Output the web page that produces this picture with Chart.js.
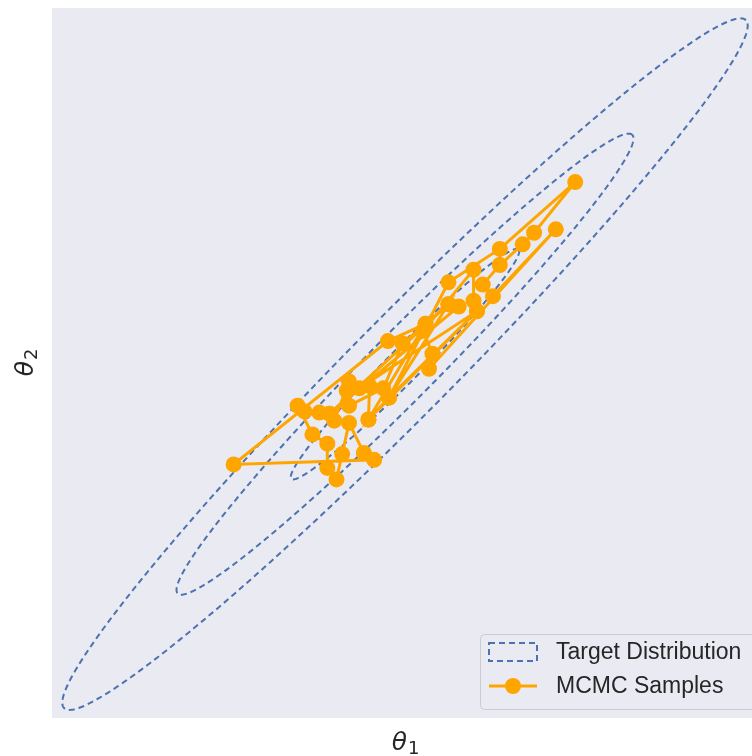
<!DOCTYPE html>
<html>
<head>
<meta charset="utf-8">
<title>MCMC samples vs target</title>
<script src="https://cdn.jsdelivr.net/npm/chart.js"></script>
<style>
  html, body { margin: 0; padding: 0; background: #fff; overflow: hidden; }
  canvas { display: block; }
</style>
</head>
<body>
<canvas id="mcmcChart" width="766" height="756"></canvas>
<script>
// Metropolis chain, in the order it was visited
const sampleX = [0.18, -0.15, -1.50, -0.27, -0.36, -0.49, -0.55, -0.60, -0.68, -0.68,
                 -0.81, -0.94, -0.88, -0.75, -0.66, -0.62, -0.49, -0.31, -0.32, -0.14,
                 0.38, 0.83, 1.49, 1.13, 1.03, 0.83, 0.68, 0.77, 1.32, 0.21,
                 0.24, 0.16, 0.60, 0.60, 0.63, -0.40, -0.51, -0.49, -0.19, -0.02,
                 0.38, 0.47, -0.66, 0.38, -0.14, 0.63, -0.32, 0.18];
const sampleY = [0.35, 0.20, -0.87, -0.83, -0.77, -0.51, -0.78, -1.00, -0.90, -0.69,
                 -0.61, -0.36, -0.41, -0.42, -0.43, -0.49, -0.15, -0.19, -0.48, -0.29,
                 0.71, 1.00, 1.58, 1.14, 1.04, 0.86, 0.69, 0.59, 1.17, -0.04,
                 0.09, 0.29, 0.82, 0.55, 0.46, -0.21, -0.23, -0.36, -0.21, 0.18,
                 0.52, 0.50, -0.43, 0.52, -0.29, 0.46, -0.48, 0.35];

// Target: correlated bivariate normal
const targetMean = [0, 0];
const targetCov = [[1.0, 0.979], [0.979, 1.0]];
const contourLevels = [1, 2, 3];   // Mahalanobis radii

const xLimits = [-3.09, 3.09];
const yLimits = [-3.07, 3.09];

const BLUE = '#4C72B0';
const ORANGE = '#FFA500';
const TEXT = '#262626';

// points on the ellipse  (p - mu)^T S^-1 (p - mu) = level^2
function contourPoints(level, n = 360) {
    const [[a, b], [, d]] = targetCov;
    const half = (a + d) / 2;
    const root = Math.sqrt(((a - d) / 2) ** 2 + b * b);
    const l1 = half + root, l2 = half - root;
    const ang = 0.5 * Math.atan2(2 * b, a - d);
    const c = Math.cos(ang), s = Math.sin(ang);
    const pts = [];
    for (let i = 0; i <= n; i++) {
        const t = 2 * Math.PI * i / n;
        const u = level * Math.sqrt(l1) * Math.cos(t);
        const v = level * Math.sqrt(l2) * Math.sin(t);
        pts.push({ x: targetMean[0] + c * u - s * v, y: targetMean[1] + s * u + c * v });
    }
    return pts;
}

const contourSets = contourLevels.map((lv, i) => ({
    label: i === 0 ? 'Target Distribution' : '',
    data: contourPoints(lv),
    showLine: true,
    borderColor: BLUE,
    borderWidth: 2,
    borderDash: [6, 4],
    pointRadius: 0,
    fill: false,
    order: 1
}));

const chainSet = {
    label: 'MCMC Samples',
    data: sampleX.map((x, i) => ({ x: x, y: sampleY[i] })),
    showLine: true,
    borderColor: ORANGE,
    backgroundColor: ORANGE,
    borderWidth: 3,
    pointRadius: 8,
    pointBorderWidth: 0,
    pointBackgroundColor: ORANGE,
    order: 0   // drawn over the contours
};

// axes face + white figure
const facePlugin = {
    id: 'face',
    beforeDraw(chart) {
        const { ctx, chartArea: a } = chart;
        ctx.save();
        ctx.fillStyle = '#fff';
        ctx.fillRect(0, 0, chart.width, chart.height);
        ctx.fillStyle = '#EAEAF2';
        ctx.fillRect(a.left, a.top, a.right - a.left, a.bottom - a.top);
        ctx.restore();
    }
};

// theta with a subscript, as mathtext would set it
function mathLabel(ctx, x, y, sub, vertical) {
    ctx.save();
    ctx.translate(x, y);
    if (vertical) ctx.rotate(-Math.PI / 2);
    ctx.fillStyle = TEXT;
    ctx.textBaseline = 'alphabetic';
    ctx.font = 'italic 25px "DejaVu Sans"';
    const wt = ctx.measureText('θ').width;
    ctx.font = '18px "DejaVu Sans"';
    const ws = ctx.measureText(sub).width;
    const x0 = -(wt + ws) / 2;
    ctx.font = 'italic 25px "DejaVu Sans"';
    ctx.fillText('θ', x0, 0);
    ctx.font = '18px "DejaVu Sans"';
    ctx.fillText(sub, x0 + wt + 1, 4);
    ctx.restore();
}

const labelPlugin = {
    id: 'axisLabels',
    afterDraw(chart) {
        const a = chart.chartArea;
        mathLabel(chart.ctx, (a.left + a.right) / 2, 750, '1', false);
        mathLabel(chart.ctx, 33, (a.top + a.bottom) / 2, '2', true);
    }
};

// legend in the lower right corner of the axes
const legendPlugin = {
    id: 'boxLegend',
    afterDraw(chart) {
        const ctx = chart.ctx;
        const items = chart.data.datasets.filter(d => d.label);
        const bx = 480.5, by = 634.5, bw = 290, bh = 75;
        ctx.save();
        ctx.beginPath();
        ctx.roundRect(bx, by, bw, bh, 4);
        ctx.fillStyle = 'rgba(234,234,242,0.8)';
        ctx.fill();
        ctx.strokeStyle = '#CCCCCC';
        ctx.lineWidth = 1;
        ctx.stroke();

        ctx.font = '23px "Liberation Sans", Arial, sans-serif';
        ctx.textBaseline = 'middle';
        items.forEach((d, i) => {
            const cy = 652 + i * 34;
            if (d.pointRadius === 0) {
                ctx.setLineDash([6, 4]);
                ctx.strokeStyle = d.borderColor;
                ctx.lineWidth = 2;
                ctx.strokeRect(489, cy - 9, 48, 18);
                ctx.setLineDash([]);
            } else {
                ctx.strokeStyle = d.borderColor;
                ctx.lineWidth = 3;
                ctx.beginPath();
                ctx.moveTo(489, cy);
                ctx.lineTo(537, cy);
                ctx.stroke();
                ctx.fillStyle = d.backgroundColor;
                ctx.beginPath();
                ctx.arc(513, cy, 8, 0, 2 * Math.PI);
                ctx.fill();
            }
            ctx.fillStyle = TEXT;
            ctx.fillText(d.label, 556, cy + 1);
        });
        ctx.restore();
    }
};

new Chart(document.getElementById('mcmcChart'), {
    type: 'scatter',
    data: { datasets: [...contourSets, chainSet] },
    options: {
        responsive: false,
        animation: false,
        layout: { padding: { left: 52, right: 0, top: 6, bottom: 38 } },
        scales: {
            x: { type: 'linear', min: xLimits[0], max: xLimits[1], display: false },
            y: { type: 'linear', min: yLimits[0], max: yLimits[1], display: false }
        },
        plugins: {
            legend: { display: false },
            tooltip: { enabled: false }
        }
    },
    plugins: [facePlugin, labelPlugin, legendPlugin]
});
</script>
</body>
</html>
